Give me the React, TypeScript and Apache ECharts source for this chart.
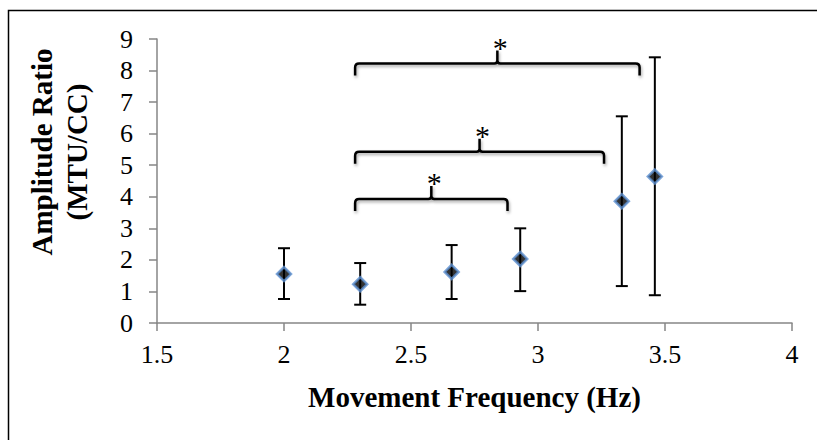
import { useEffect, useRef } from 'react'
import * as echarts from 'echarts'

// movement frequency (Hz) and amplitude ratio with error bar ends
const FREQS = [2.0, 2.3, 2.66, 2.93, 3.33, 3.46]
const MEANS = [1.55, 1.23, 1.62, 2.03, 3.86, 4.64]
const HIGHS = [2.37, 1.9, 2.47, 3.0, 6.55, 8.42]
const LOWS = [0.76, 0.58, 0.76, 1.01, 1.17, 0.88]

// significance brackets: left end, right end, peak position, level
const BR_LEFT = [2.28, 2.28, 2.28]
const BR_RIGHT = [2.88, 3.26, 3.4]
const BR_PEAK = [2.58, 2.77, 2.84]
const BR_LEVEL = [3.93, 5.43, 8.22]

const SERIF = '"Liberation Serif", "Times New Roman", serif'
const AXIS_GREY = '#868686'

export default function App() {
  const chartRef = useRef<HTMLDivElement>(null)

  useEffect(() => {
    if (!chartRef.current) return
    const chart = echarts.init(chartRef.current, undefined, { renderer: 'svg' })

    const errData = FREQS.map((f, i) => [f, LOWS[i], HIGHS[i]])
    const brData = BR_LEFT.map((l, i) => [l, BR_RIGHT[i], BR_PEAK[i], BR_LEVEL[i]])

    const option: echarts.EChartsOption = {
      animation: false,
      backgroundColor: '#fff',
      grid: { left: 157, right: 25, top: 39, bottom: 117 },
      xAxis: {
        type: 'value',
        min: 1.5,
        max: 4,
        interval: 0.5,
        name: 'Movement Frequency (Hz)',
        nameLocation: 'middle',
        nameGap: 59,
        nameTextStyle: { fontFamily: SERIF, fontSize: 29, fontWeight: 'bold', color: '#000' },
        axisLine: { lineStyle: { color: AXIS_GREY, width: 1.5 } },
        axisTick: { length: 8, lineStyle: { color: AXIS_GREY, width: 1.5 } },
        axisLabel: { fontFamily: SERIF, fontSize: 26, color: '#000', margin: 18 },
        splitLine: { show: false },
      },
      yAxis: {
        type: 'value',
        min: 0,
        max: 9,
        interval: 1,
        axisLine: { show: true, lineStyle: { color: AXIS_GREY, width: 1.5 } },
        axisTick: { show: true, length: 8, lineStyle: { color: AXIS_GREY, width: 1.5 } },
        axisLabel: { fontFamily: SERIF, fontSize: 26, color: '#000', margin: 24 },
        splitLine: { show: false },
      },
      graphic: [
        {
          type: 'rect',
          shape: { x: 8.5, y: 10.5, width: 900, height: 600 },
          style: { fill: 'none', stroke: '#000', lineWidth: 1.5 },
          silent: true,
          z: -10,
        },
        {
          type: 'text',
          x: 59,
          y: 152,
          rotation: Math.PI / 2,
          style: {
            text: 'Amplitude Ratio\n(MTU/CC)',
            font: `bold 29px ${SERIF}`,
            fill: '#000',
            align: 'center',
            verticalAlign: 'middle',
            lineHeight: 35,
          },
        },
      ],
      series: [
        {
          type: 'custom',
          name: 'error',
          data: errData,
          z: 2,
          renderItem: (_params: any, api: any) => {
            const x = api.value(0)
            const lo = api.coord([x, api.value(1)])
            const hi = api.coord([x, api.value(2)])
            const cap = 6
            const style = { stroke: '#000', lineWidth: 2 }
            return {
              type: 'group',
              children: [
                { type: 'line', shape: { x1: lo[0], y1: lo[1], x2: hi[0], y2: hi[1] }, style },
                { type: 'line', shape: { x1: hi[0] - cap, y1: hi[1], x2: hi[0] + cap, y2: hi[1] }, style },
                { type: 'line', shape: { x1: lo[0] - cap, y1: lo[1], x2: lo[0] + cap, y2: lo[1] }, style },
              ],
            }
          },
        },
        {
          type: 'scatter',
          name: 'ratio',
          data: FREQS.map((f, i) => [f, MEANS[i]]),
          symbol: 'diamond',
          symbolSize: 14,
          z: 3,
          itemStyle: { color: '#000', borderColor: '#5b8fd0', borderWidth: 2.5 },
        },
        {
          type: 'custom',
          name: 'brackets',
          data: brData,
          z: 4,
          renderItem: (_params: any, api: any) => {
            const level = api.value(3)
            const [x1, y] = api.coord([api.value(0), level])
            const x2 = api.coord([api.value(1), level])[0]
            const xp = api.coord([api.value(2), level])[0]
            const hook = 12
            const tip = 13
            const r = 4
            const d = [
              `M ${x1} ${y + hook}`,
              `L ${x1} ${y + r}`,
              `Q ${x1} ${y} ${x1 + r} ${y}`,
              `L ${xp - 3} ${y}`,
              `Q ${xp} ${y} ${xp} ${y - 3}`,
              `L ${xp} ${y - tip}`,
              `M ${xp} ${y - 3}`,
              `Q ${xp} ${y} ${xp + 3} ${y}`,
              `L ${x2 - r} ${y}`,
              `Q ${x2} ${y} ${x2} ${y + r}`,
              `L ${x2} ${y + hook}`,
            ].join(' ')
            return {
              type: 'group',
              children: [
                {
                  type: 'path',
                  shape: { pathData: d },
                  style: {
                    fill: 'none',
                    stroke: '#000',
                    lineWidth: 2.5,
                    shadowBlur: 3,
                    shadowOffsetX: 1,
                    shadowOffsetY: 2,
                    shadowColor: 'rgba(0,0,0,0.35)',
                  },
                },
                {
                  type: 'text',
                  x: xp + 3,
                  y: y - tip - 3,
                  style: {
                    text: '*',
                    font: `30px ${SERIF}`,
                    fill: '#000',
                    align: 'center',
                    verticalAlign: 'middle',
                  },
                },
              ],
            }
          },
        },
      ],
    }

    chart.setOption(option)
    return () => chart.dispose()
  }, [])

  return (
    <div
      ref={chartRef}
      style={{ position: 'fixed', left: 0, top: 0, width: '817px', height: '440px' }}
    />
  )
}
